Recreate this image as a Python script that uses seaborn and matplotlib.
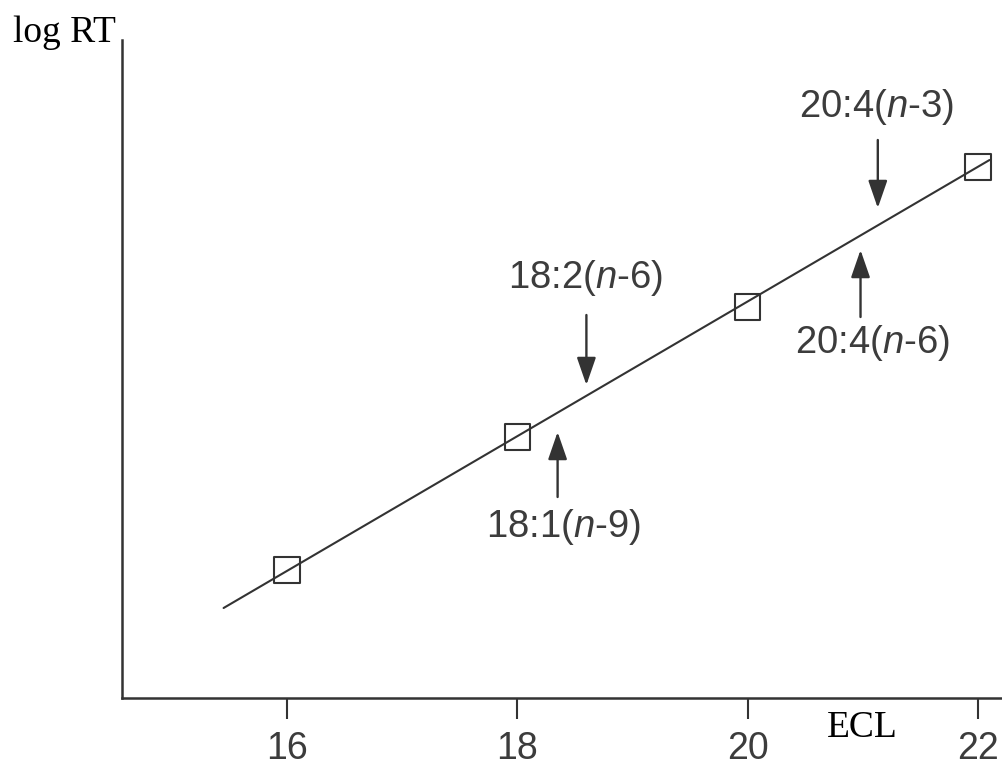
import matplotlib
matplotlib.use("Agg")
import matplotlib.pyplot as plt
import seaborn as sns
import pandas as pd

# ---- data ----
ecl = [16, 18, 20, 22]
log_rt = [1.28, 2.61, 3.91, 5.31]
fit_ecl = [15.45, 22.10]
fit_log_rt = [0.90, 5.38]
tick_values = [16, 18, 20, 22]
tick_labels = ["16", "18", "20", "22"]

# annotation labels: (label, arrow x, arrow tail y, arrow tip y, text x, text y)
ann_labels = ["20:4($\\it{n}$-3)", "20:4($\\it{n}$-6)", "18:2($\\it{n}$-6)", "18:1($\\it{n}$-9)"]
ann_layout = [
    (21.13, 5.58, 4.90, 21.12, 5.91),
    (20.98, 3.81, 4.48, 21.08, 3.55),
    (18.60, 3.83, 3.13, 18.59, 4.20),
    (18.35, 2.01, 2.66, 18.40, 1.71),
]

sns.set_theme(style="white")
plt.rcParams["font.family"] = ["Liberation Sans", "DejaVu Sans"]
plt.rcParams["mathtext.fontset"] = "custom"
plt.rcParams["mathtext.it"] = "Liberation Sans:italic"
plt.rcParams["mathtext.rm"] = "Liberation Sans"

ink = "#333333"
txt = "#3c3c3c"

fig = plt.figure(figsize=(10.03, 7.71), dpi=100)
ax = fig.add_axes([122 / 1003, 73 / 771, 1 - 122 / 1003, (698 - 40) / 771])

pts = pd.DataFrame({"ECL": ecl, "logRT": log_rt})
fit = pd.DataFrame({"ECL": fit_ecl, "logRT": fit_log_rt})

sns.lineplot(data=fit, x="ECL", y="logRT", ax=ax, color=ink, linewidth=1.5)
sns.scatterplot(data=pts, x="ECL", y="logRT", ax=ax, marker="s", s=330,
                facecolor="none", edgecolor=ink, linewidth=1.5, zorder=3)

ax.set_xlim(14.568, 22.217)
ax.set_ylim(0, 6.58)
ax.set_xticks(tick_values)
ax.set_xticklabels(tick_labels, fontsize=27, color=txt)
ax.set_yticks([])
ax.set_xlabel("")
ax.set_ylabel("")
ax.tick_params(axis="x", direction="out", length=15, width=1.5, color=ink, pad=9, bottom=True)

for side in ["top", "right"]:
    ax.spines[side].set_visible(False)
for side in ["left", "bottom"]:
    ax.spines[side].set_color(ink)
    ax.spines[side].set_linewidth(1.8)

for label, (xa, y_tail, y_tip, xt, yt) in zip(ann_labels, ann_layout):
    ax.annotate("", xy=(xa, y_tip), xytext=(xa, y_tail),
                arrowprops=dict(arrowstyle="-|>,head_length=1.3,head_width=0.45",
                                color=ink, lw=1.7, shrinkA=0, shrinkB=0,
                                mutation_scale=13))
    ax.text(xt, yt, label, ha="center", va="center", fontsize=27.5, color=txt)

fig.text(13 / 1003, 1 - 33 / 771, "log RT", ha="left", va="center",
         fontsize=27, family="Liberation Serif", color="black")
fig.text(862 / 1003, 1 - 728 / 771, "ECL", ha="center", va="center",
         fontsize=27, family="Liberation Serif", color="black")

fig.savefig("out.png", dpi=100, facecolor="white")
